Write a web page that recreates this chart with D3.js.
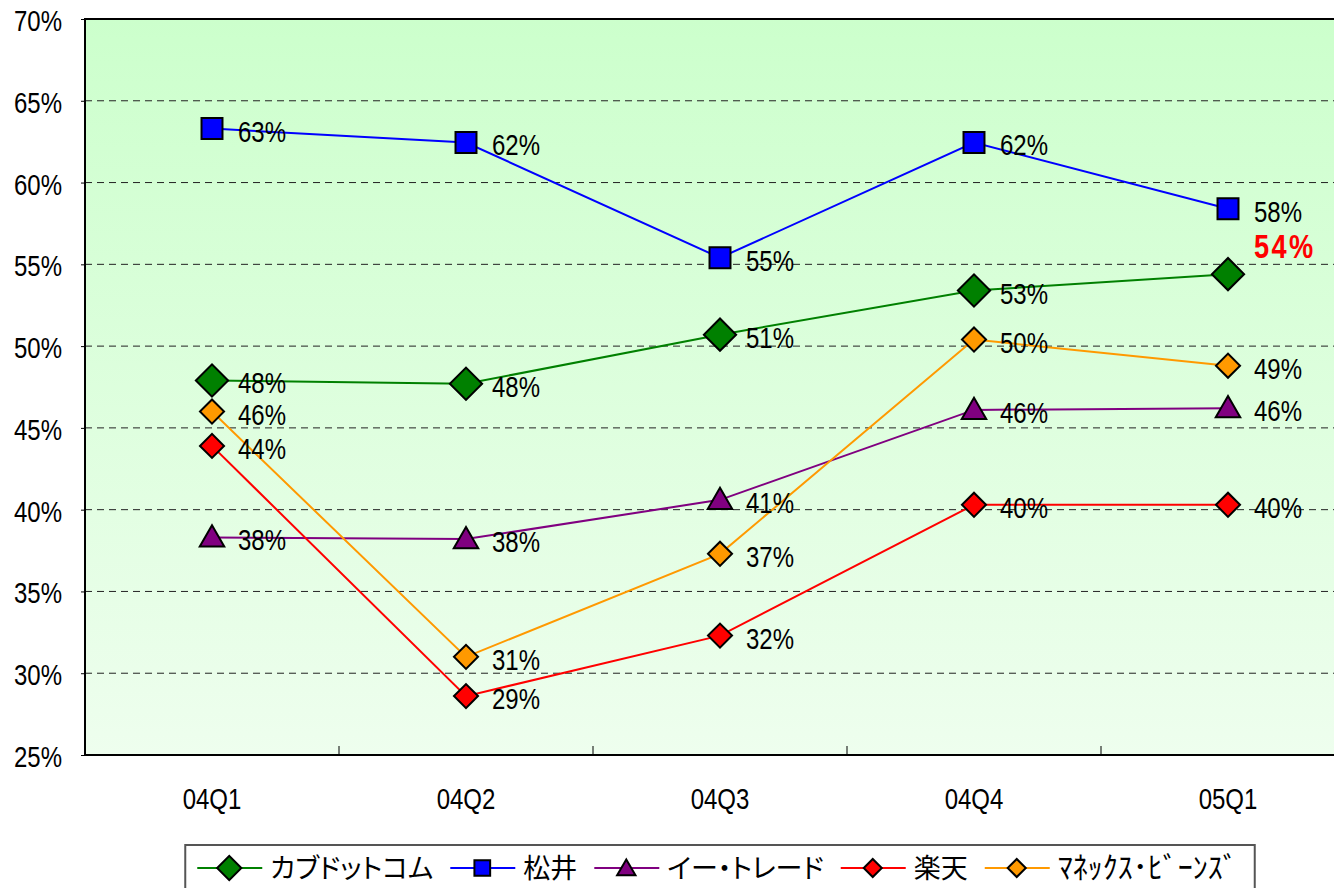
<!DOCTYPE html>
<meta charset="utf-8">
<script src="https://d3js.org/d3.v7.min.js"></script>
<style>
  body { margin: 0; background: #fff; }
  text { font-family: "Liberation Sans", Arial, sans-serif; }
  .jp { font-family: "Noto Sans CJK JP", sans-serif; font-feature-settings: "palt"; }
</style>
<div id="chart"></div>
<script>

// data
var quarters = ["04Q1", "04Q2", "04Q3", "04Q4", "05Q1"];
var seriesNames = ["カブドットコム", "松井", "イー・トレード", "楽天", "ﾏﾈｯｸｽ･ﾋﾞｰﾝｽﾞ"];
var kabucom = [0.479, 0.477, 0.507, 0.534, 0.544];
var matsui  = [0.633, 0.6245, 0.554, 0.6245, 0.584];
var etrade  = [0.383, 0.382, 0.406, 0.461, 0.462];
var rakuten = [0.439, 0.286, 0.323, 0.403, 0.403];
var monex   = [0.460, 0.310, 0.373, 0.504, 0.488];
var yTicks  = [0.25, 0.30, 0.35, 0.40, 0.45, 0.50, 0.55, 0.60, 0.65, 0.70];

// look of each series
var colors  = ["#008000", "#0000ff", "#800080", "#ff0000", "#ff9900"];
var shapes  = ["bigdiamond", "square", "triangle", "diamond", "diamond"];
var values  = [kabucom, matsui, etrade, rakuten, monex];

var width = 1334, height = 888;
var plotLeft = 85, plotTop = 19, plotBottom = 755, bandW = 254;
var plotRight = plotLeft + bandW * quarters.length;

var svg = d3.select("#chart").append("svg")
    .attr("width", width)
    .attr("height", height);

var x = d3.scaleBand().domain(quarters).range([plotLeft, plotRight]);
var y = d3.scaleLinear().domain([0.25, 0.70]).range([plotBottom, plotTop]);
var pct = d3.format(".0%");
function cx(i) { return x(quarters[i]) + x.bandwidth() / 2; }

// narrow, tall text like the original chart font
function narrowText(sel, px, py, size, anchor) {
  return sel.append("text")
    .attr("transform", "translate(" + px + "," + py + ") scale(0.8,1)")
    .attr("font-size", size)
    .attr("text-anchor", anchor || "start");
}

// background gradient of the plot area
var grad = svg.append("defs").append("linearGradient")
    .attr("id", "bg").attr("x1", 0).attr("y1", 0).attr("x2", 0).attr("y2", 1);
grad.append("stop").attr("offset", "0%").attr("stop-color", "#ccffcc");
grad.append("stop").attr("offset", "100%").attr("stop-color", "#eefeee");

svg.append("rect")
    .attr("x", plotLeft).attr("y", plotTop)
    .attr("width", plotRight - plotLeft).attr("height", plotBottom - plotTop)
    .attr("fill", "url(#bg)");

// dashed grid lines
svg.selectAll(".grid")
  .data(yTicks.slice(1, -1))
  .enter().append("line")
    .attr("x1", plotLeft).attr("x2", plotRight)
    .attr("y1", function(d) { return y(d); })
    .attr("y2", function(d) { return y(d); })
    .attr("stroke", "#222")
    .attr("stroke-width", 1)
    .attr("stroke-dasharray", "7,5");

// y axis
var yAxis = svg.append("g")
    .attr("transform", "translate(" + plotLeft + ",0)")
    .call(d3.axisLeft(y).tickValues(yTicks).tickFormat("").tickSize(4));
yAxis.select(".domain").remove();
yTicks.forEach(function(t) {
  narrowText(svg, 62, y(t) + 12, 30, "end").text(pct(t));
});

// x axis, with tick marks between categories pointing up
svg.selectAll(".xtick")
  .data(quarters.slice(1))
  .enter().append("line")
    .attr("x1", function(d) { return x(d); })
    .attr("x2", function(d) { return x(d); })
    .attr("y1", plotBottom).attr("y2", plotBottom - 9)
    .attr("stroke", "#000");

quarters.forEach(function(q, i) {
  narrowText(svg, cx(i), 809, 30, "middle").text(q);
});

// plot border
svg.append("rect")
    .attr("x", plotLeft).attr("y", plotTop)
    .attr("width", plotRight - plotLeft).attr("height", plotBottom - plotTop)
    .attr("fill", "none")
    .attr("stroke", "#000")
    .attr("stroke-width", 2);

// marker shapes
function markerPath(shape, k) {
  if (shape === "bigdiamond") return d3.symbol(d3.symbolSquare, 520 * k * k)();
  if (shape === "diamond") return d3.symbol(d3.symbolSquare, 290 * k * k)();
  if (shape === "square") return d3.symbol(d3.symbolSquare, 440 * k * k)();
  return d3.symbol(d3.symbolTriangle, 260 * k * k)();
}
function markerRot(shape) {
  return (shape === "bigdiamond" || shape === "diamond") ? " rotate(45)" : "";
}

var line = d3.line()
    .x(function(d, i) { return cx(i); })
    .y(function(d) { return y(d); });

values.forEach(function(vals, s) {
  var g = svg.append("g");
  g.append("path")
    .attr("d", line(vals))
    .attr("fill", "none")
    .attr("stroke", colors[s])
    .attr("stroke-width", 2);

  g.selectAll("path.mark")
    .data(vals)
    .enter().append("path")
      .attr("class", "mark")
      .attr("d", markerPath(shapes[s], 1))
      .attr("transform", function(d, i) {
        var dy = shapes[s] === "triangle" ? 2 : 0;
        return "translate(" + cx(i) + "," + (y(d) + dy) + ")" + markerRot(shapes[s]);
      })
      .attr("fill", colors[s])
      .attr("stroke", "#000")
      .attr("stroke-width", 2);
});

// data labels (last カブドットコム value is highlighted in red above the point)
values.forEach(function(vals, s) {
  vals.forEach(function(d, i) {
    var hot = (s === 0 && i === vals.length - 1);
    var t = narrowText(svg, cx(i) + 26, hot ? y(d) - 16 : y(d) + 13, hot ? 34 : 30)
      .attr("fill", hot ? "#ff0000" : "#000")
      .text(pct(d));
    if (hot) t.attr("font-weight", "bold").attr("letter-spacing", 3);
  });
});

// legend
var legend = svg.append("g");
var box = legend.append("rect")
    .attr("fill", "#fff")
    .attr("stroke", "#555")
    .attr("stroke-width", 2);

var lx = 0;
seriesNames.forEach(function(name, s) {
  var item = legend.append("g").attr("transform", "translate(" + lx + ",0)");
  item.append("line")
    .attr("x1", 0).attr("x2", 65).attr("y1", 0).attr("y2", 0)
    .attr("stroke", colors[s]).attr("stroke-width", 2);
  item.append("path")
    .attr("d", markerPath(shapes[s], 0.75))
    .attr("transform", "translate(32," + (shapes[s] === "triangle" ? 2 : 0) + ")" + markerRot(shapes[s]))
    .attr("fill", colors[s])
    .attr("stroke", "#000")
    .attr("stroke-width", 2);
  var t = item.append("text")
    .attr("class", "jp")
    .attr("x", 73)
    .attr("y", 10)
    .attr("font-size", 27)
    .text(name);
  // half-width katakana keep their normal width
  if (/[\uFF61-\uFF9F]/.test(name)) t.style("font-feature-settings", "normal").attr("font-size", 30);
  lx += 73 + t.node().getComputedTextLength() + 17;
});

var legW = lx - 17 + 12 + 17;
var legX = (plotLeft + plotRight) / 2 - legW / 2;
legend.attr("transform", "translate(" + (legX + 12) + ",868)");
box.attr("x", -12).attr("y", -23).attr("width", legW).attr("height", 60);

</script>
